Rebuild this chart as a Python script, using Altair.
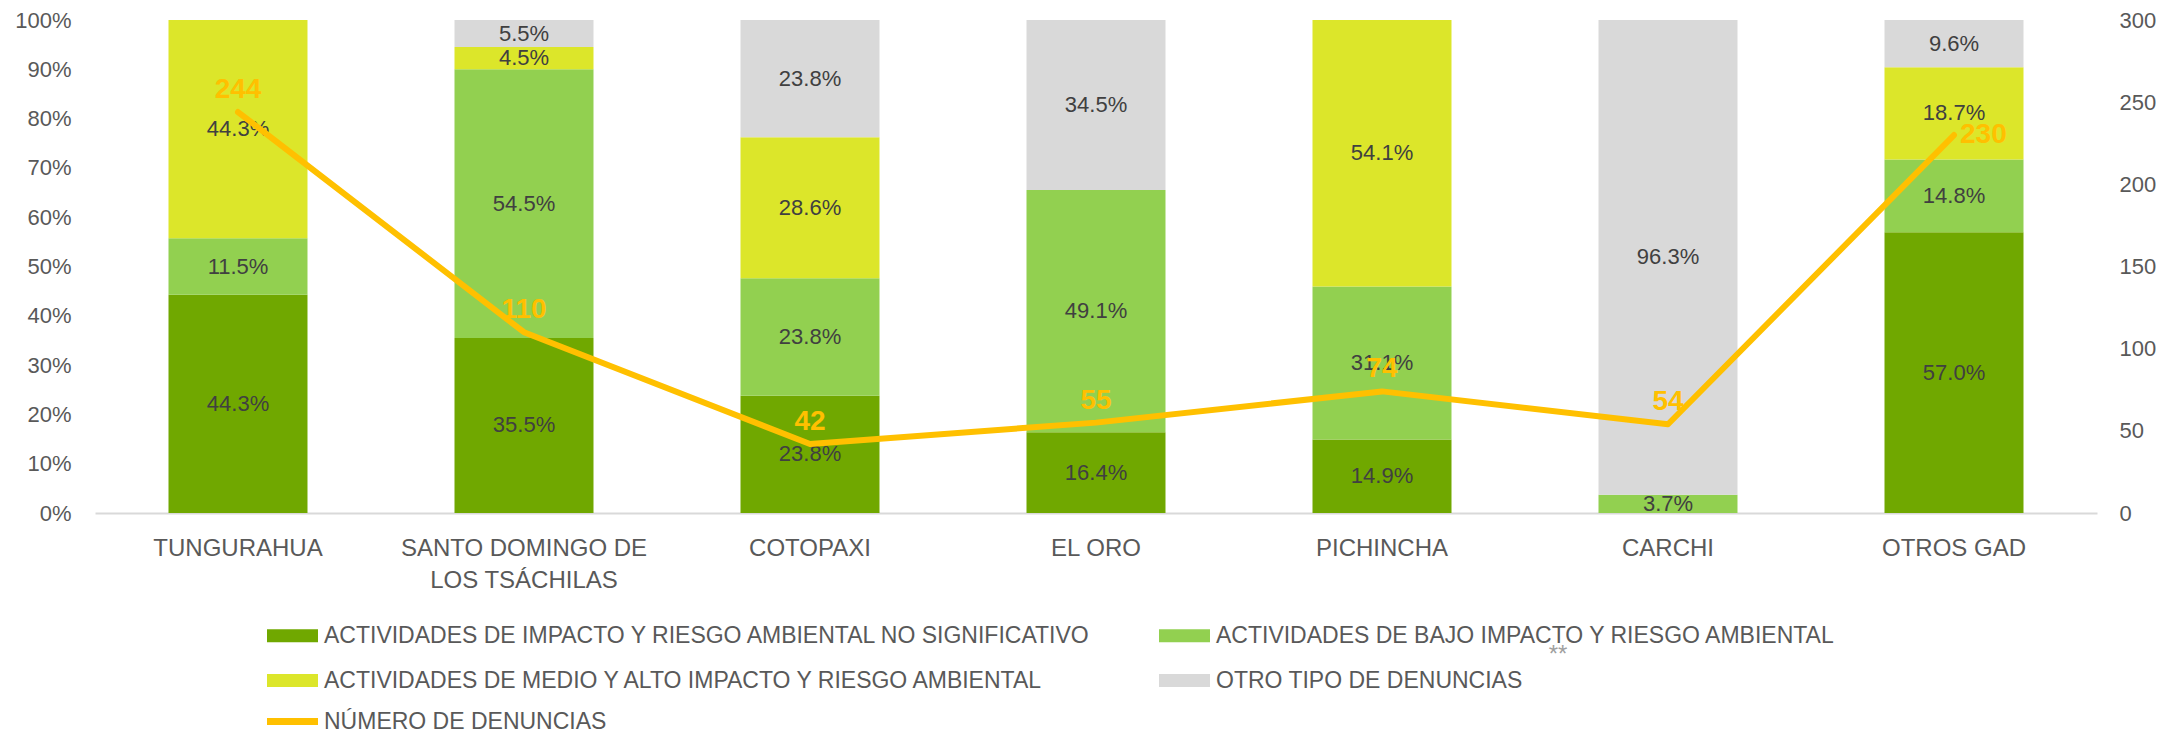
import altair as alt
import pandas as pd

categorias = ["TUNGURAHUA", "SANTO DOMINGO DE LOS TSÁCHILAS", "COTOPAXI", "EL ORO",
              "PICHINCHA", "CARCHI", "OTROS GAD"]
series = ["ACTIVIDADES DE IMPACTO Y RIESGO AMBIENTAL NO SIGNIFICATIVO",
          "ACTIVIDADES DE BAJO IMPACTO Y RIESGO AMBIENTAL",
          "ACTIVIDADES DE MEDIO Y ALTO IMPACTO Y RIESGO AMBIENTAL",
          "OTRO TIPO DE DENUNCIAS"]
colores = ["#70A800", "#92D050", "#DCE62A", "#D9D9D9"]

no_significativo = [44.3, 35.5, 23.8, 16.4, 14.9, 0.0, 57.0]
bajo_impacto = [11.5, 54.5, 23.8, 49.1, 31.1, 3.7, 14.8]
medio_alto = [44.3, 4.5, 28.6, 0.0, 54.1, 0.0, 18.7]
otro_tipo = [0.0, 5.5, 23.8, 34.5, 0.0, 96.3, 9.6]
denuncias = [244, 110, 42, 55, 74, 54, 230]
nombre_linea = "NÚMERO DE DENUNCIAS"

rows = []
for i, c in enumerate(categorias):
    for j, vals in enumerate([no_significativo, bajo_impacto, medio_alto, otro_tipo]):
        rows.append({"categoria": c, "serie": series[j], "orden": j, "valor": vals[i]})
df = pd.DataFrame(rows)
df_line = pd.DataFrame({"categoria": categorias, "denuncias": denuncias,
                        "nombre": [nombre_linea] * len(categorias)})

FONT = "Liberation Sans"
GRAY = "#595959"

x_enc = alt.X(
    "categoria:N", sort=categorias,
    scale=alt.Scale(paddingInner=0.514, paddingOuter=0.257),
    axis=alt.Axis(title=None, labelAngle=0, labelFontSize=24, labelColor=GRAY, labelFont=FONT,
                  ticks=False, domainColor="#D9D9D9", domainWidth=2, labelPadding=23,
                  labelLimit=400, labelLineHeight=32,
                  labelExpr="datum.label == 'SANTO DOMINGO DE LOS TSÁCHILAS' ? ['SANTO DOMINGO DE', 'LOS TSÁCHILAS'] : datum.label"),
)

axis_left = alt.Axis(title=None, format=".0%", values=[i / 10 for i in range(11)],
                     labelFontSize=22, labelColor=GRAY, labelFont=FONT, ticks=False,
                     domain=False, grid=False, labelPadding=24)
scale_left = alt.Scale(domain=[0, 1], nice=False)

axis_right = alt.Axis(title=None, orient="right", values=[0, 50, 100, 150, 200, 250, 300],
                      labelFontSize=22, labelColor=GRAY, labelFont=FONT, ticks=False,
                      domain=False, grid=False, labelPadding=22)
scale_right = alt.Scale(domain=[0, 300], nice=False)

base = alt.Chart(df).transform_stack(
    stack="valor", groupby=["categoria"], as_=["v0", "v1"], offset="normalize",
    sort=[alt.SortField("orden", order="ascending")],
).transform_calculate(
    mid="(datum.v0 + datum.v1) / 2",
    etiqueta="format(datum.valor, '.1f') + '%'",
)

SYM_RECT = "M-3.923,-1H3.923V1H-3.923Z"
SYM_LINE = "M-3.923,0H3.923"

bars = base.mark_bar().encode(
    x=x_enc,
    y=alt.Y("v0:Q", scale=scale_left, axis=axis_left),
    y2="v1:Q",
    color=alt.Color("serie:N", scale=alt.Scale(domain=series, range=colores),
                    legend=alt.Legend(title=None, orient="none", legendX=186, legendY=604,
                                      columns=2, direction="horizontal",
                                      labelFontSize=23, labelColor=GRAY, labelFont=FONT,
                                      labelLimit=1000, symbolType=SYM_RECT,
                                      symbolSize=169, symbolStrokeWidth=0, labelOffset=20,
                                      rowPadding=21, columnPadding=67, symbolOpacity=1)),
)

bar_labels = base.transform_filter("datum.valor > 0").mark_text(
    fontSize=22, color="#404040", font=FONT, baseline="middle", align="center"
).encode(
    x=x_enc,
    y=alt.Y("mid:Q", scale=scale_left, axis=axis_left),
    text="etiqueta:N",
)

left = alt.layer(bars, bar_labels)

line_base = alt.Chart(df_line)

line = line_base.mark_line(strokeWidth=6, strokeJoin="round", strokeCap="round").encode(
    x=x_enc,
    y=alt.Y("denuncias:Q", scale=scale_right, axis=axis_right),
    stroke=alt.Stroke("nombre:N", scale=alt.Scale(domain=[nombre_linea], range=["#FFC000"]),
                      legend=alt.Legend(title=None, orient="none", legendX=186, legendY=690,
                                        symbolType=SYM_LINE, symbolSize=169, symbolStrokeWidth=7,
                                        labelFontSize=23, labelColor=GRAY, labelFont=FONT,
                                        labelLimit=1000, labelOffset=20)),
)

line_labels = line_base.transform_filter("datum.categoria != 'OTROS GAD'").mark_text(
    fontSize=28, fontWeight="bold", color="#FFC000", font=FONT, dy=-22, baseline="middle"
).encode(x=x_enc, y=alt.Y("denuncias:Q", scale=scale_right, axis=axis_right),
         text="denuncias:Q")

line_label_last = line_base.transform_filter("datum.categoria == 'OTROS GAD'").mark_text(
    fontSize=28, fontWeight="bold", color="#FFC000", font=FONT, dx=6, baseline="middle", align="left"
).encode(x=x_enc, y=alt.Y("denuncias:Q", scale=scale_right, axis=axis_right),
         text="denuncias:Q")

right = alt.layer(line, line_labels, line_label_last)

nota = alt.Chart(pd.DataFrame({"t": ["**"]})).mark_text(
    fontSize=24, color="#A0A0A0", font=FONT
).encode(text="t:N", x=alt.value(1463), y=alt.value(635))

chart = alt.layer(left, right, nota).resolve_scale(y="independent").properties(
    width=2002, height=493,
    padding={"left": 6, "top": 1, "right": 5, "bottom": 0},
).configure_view(stroke=None)

chart.save("out.html", embed_options={"renderer": "svg", "actions": False})
